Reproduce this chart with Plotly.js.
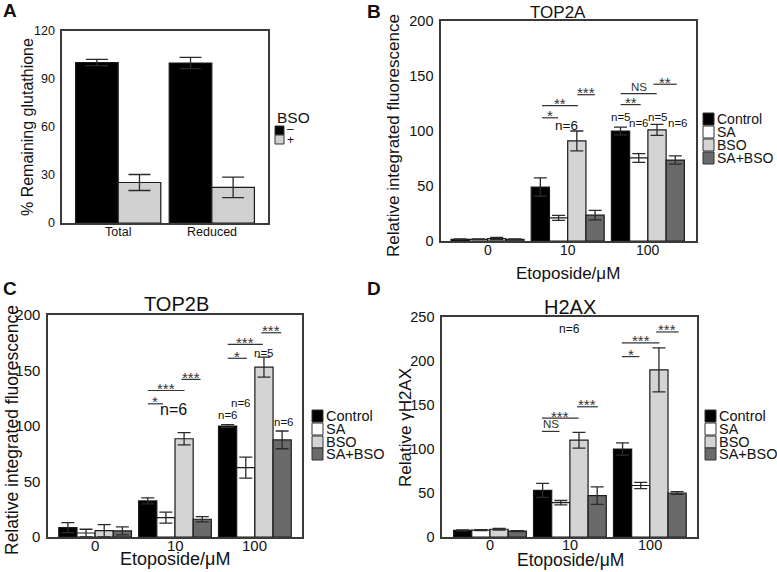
<!DOCTYPE html>
<html><head><meta charset="utf-8">
<script src="https://cdn.plot.ly/plotly-3.0.1.min.js"></script>
<style>html,body{margin:0;padding:0;background:#fff}#chart{width:777px;height:572px}</style>
</head><body><div id="chart"></div>
<script>
// ---------- Panel A data ----------
const aCategories = ['Total', 'Reduced'];
const aMinusValues = [100.3, 100];
const aMinusErr = [2, 3.5];
const aPlusValues = [25.3, 22.3];
const aPlusErr = [5, 6.4];

// ---------- Panels B-D data ----------
const etoCategories = ['0', '10', '100'];
const seriesNames = ['Control', 'SA', 'BSO', 'SA+BSO'];

const top2aControl = [1.5, 49, 100],   top2aControlErr = [0.3, 8.3, 3.6];
const top2aSA      = [1.5, 21, 75.5],  top2aSAErr      = [0.3, 2.3, 4];
const top2aBSO     = [2.2, 91, 101],   top2aBSOErr     = [1, 9, 5];
const top2aSABSO   = [1.5, 23.5, 73.6], top2aSABSOErr  = [0.3, 4.3, 3.7];

const top2bControl = [8.5, 32.5, 100],  top2bControlErr = [4.5, 2.7, 1.2];
const top2bSA      = [3.6, 17.5, 62.5], top2bSAErr      = [3.4, 5, 9.5];
const top2bBSO     = [5.7, 88.5, 153],  top2bBSOErr     = [5.5, 5.5, 9];
const top2bSABSO   = [5.5, 16, 87.5],   top2bSABSOErr   = [3.6, 2.3, 8];

const h2axControl = [7.5, 53, 100],   h2axControlErr = [0.6, 8, 7];
const h2axSA      = [7.8, 39, 58.5],  h2axSAErr      = [0.5, 2.5, 3.5];
const h2axBSO     = [8.8, 110, 190],  h2axBSOErr     = [1, 9, 25];
const h2axSABSO   = [6.6, 47, 50],    h2axSABSOErr   = [0.6, 10, 1.5];

// significance bars: [from, to, level, label]
const sigB = [[0.68,0.88,112,'*'],[0.68,1.13,123,'**'],[1.12,1.34,133,'***'],[1.66,1.91,124,'**'],[1.66,2.11,134,'NS'],[2.07,2.36,142.5,'**']];
const sigC = [[0.66,0.85,120,'*'],[0.66,1.12,132,'***'],[1.08,1.32,142,'***'],[1.66,1.90,161,'*'],[1.66,2.10,173.5,'***'],[2.08,2.33,184,'***']];
const sigD = [[0.65,0.87,120,'NS'],[0.65,1.11,135,'***'],[1.09,1.35,148,'***'],[1.65,1.87,205,'*'],[1.65,2.12,220.5,'***'],[2.08,2.36,233,'***']];
// n labels: [x, y, text, size]
const nB = [[0.99,105,'n=6',13.5],[1.66,113,'n=5',11.5],[1.89,107,'n=6',11.5],[2.12,113,'n=5',11.5],[2.37,107,'n=6',11.5]];
const nC = [[0.98,115,'n=6',16],[1.66,110,'n=6',11.5],[1.83,121,'n=6',11.5],[2.12,166,'n=5',11.5],[2.36,104,'n=6',11.5]];
const nD = [[1.0,236,'n=6',12]];

const FONT = 'Liberation Sans, Arial, sans-serif';
const colors = ['#000000', '#ffffff', '#d4d4d4', '#6a6a6a'];
const W = 777, H = 572;
const px = v => v / W, py = v => 1 - v / H;

function bar(name, x, y, err, color, xa, ya, capw) {
  return {
    type: 'bar', name: name, x: x, y: y, xaxis: xa, yaxis: ya, showlegend: false,
    marker: { color: color, line: { color: '#1a1a1a', width: 1.2 } },
    error_y: { type: 'data', array: err, visible: true, color: '#2a2a2a', thickness: 1.3, width: capw },
    hoverinfo: 'skip'
  };
}

const traces = [
  bar('−', aCategories, aMinusValues, aMinusErr, '#000000', 'x', 'y', 11),
  bar('+', aCategories, aPlusValues, aPlusErr, '#d0d0d0', 'x', 'y', 11)
];
const panels = [
  { xa: 'x2', ya: 'y2', data: [[top2aControl, top2aControlErr],[top2aSA, top2aSAErr],[top2aBSO, top2aBSOErr],[top2aSABSO, top2aSABSOErr]] },
  { xa: 'x3', ya: 'y3', data: [[top2bControl, top2bControlErr],[top2bSA, top2bSAErr],[top2bBSO, top2bBSOErr],[top2bSABSO, top2bSABSOErr]] },
  { xa: 'x4', ya: 'y4', data: [[h2axControl, h2axControlErr],[h2axSA, h2axSAErr],[h2axBSO, h2axBSOErr],[h2axSABSO, h2axSABSOErr]] }
];
panels.forEach(p => {
  p.data.forEach((d, i) => traces.push(bar(seriesNames[i], etoCategories, d[0], d[1], colors[i], p.xa, p.ya, 6.5)));
});

function xax(anchor, domain, range) {
  return { anchor: anchor, domain: domain, range: range, type: 'category', showline: true, mirror: true, linecolor: '#3a3a3a', linewidth: 1.6,
    ticks: '', showgrid: false, zeroline: false, showticklabels: false, fixedrange: true };
}
function yax(anchor, domain, range, dtick, fs) {
  return { anchor: anchor, domain: domain, range: range, dtick: dtick, tick0: 0, showline: true, mirror: true, linecolor: '#3a3a3a', linewidth: 1.6,
    ticks: '', showgrid: false, zeroline: false, ticklabelstandoff: 3, tickfont: { family: FONT, size: fs, color: '#111' }, fixedrange: true };
}

const annotations = [];
const shapes = [];
function txt(x, y, text, size, opts) {
  annotations.push(Object.assign({ x: x, y: y, xref: 'paper', yref: 'paper', text: text, showarrow: false,
    xanchor: 'center', yanchor: 'middle', font: { family: FONT, size: size, color: '#111' } }, opts || {}));
}
// x-axis category labels, placed at each category's index on its axis
function xticks(cats, xa, yPix, size) {
  cats.forEach((c, i) => annotations.push({ x: i, y: py(yPix), xref: xa, yref: 'paper', text: c, showarrow: false,
    xanchor: 'center', yanchor: 'middle', font: { family: FONT, size: size, color: '#111' } }));
}
xticks(aCategories, 'x', 232, 12.5);
xticks(etoCategories, 'x2', 250, 14);
xticks(etoCategories, 'x3', 545, 15);
xticks(etoCategories, 'x4', 545, 14.5);

// panel letters
txt(px(10), py(10), '<b>A</b>', 19);
txt(px(374), py(11), '<b>B</b>', 19);
txt(px(10), py(288), '<b>C</b>', 19);
txt(px(374), py(288), '<b>D</b>', 19);
// subplot titles
txt(px(558), py(13), 'TOP2A', 17);
txt(px(176), py(304), 'TOP2B', 20);
txt(px(570), py(307), 'H2AX', 20);
// axis titles
txt(px(27), py(127), '% Remaining glutathione', 16, { textangle: -90 });
txt(px(394), py(136), 'Relative integrated fluorescence', 17, { textangle: -90 });
txt(px(12), py(430), 'Relative integrated fluorescence', 17.5, { textangle: -90 });
txt(px(405), py(427), 'Relative γH2AX', 17, { textangle: -90 });
txt(px(568), py(273), 'Etoposide/μM', 17);
txt(px(175), py(559), 'Etoposide/μM', 18);
txt(px(570), py(559.5), 'Etoposide/μM', 17.5);

// significance bars
function sig(list, xa, ya) {
  list.forEach(s => {
    shapes.push({ type: 'line', xref: xa, yref: ya, x0: s[0], x1: s[1], y0: s[2], y1: s[2], line: { color: '#333', width: 1.2 } });
    const isNS = s[3] === 'NS';
    annotations.push({ x: (s[0] + s[1]) / 2, y: s[2], xref: xa, yref: ya, text: s[3], showarrow: false,
      xanchor: 'center', yanchor: 'middle', yshift: isNS ? 7 : 2,
      font: { family: FONT, size: isNS ? 11.5 : 15, color: '#333' } });
  });
}
function nlab(list, xa, ya) {
  list.forEach(n => annotations.push({ x: n[0], y: n[1], xref: xa, yref: ya, text: n[2], showarrow: false,
    xanchor: 'center', yanchor: 'middle', font: { family: FONT, size: n[3], color: '#111' } }));
}
sig(sigB, 'x2', 'y2'); nlab(nB, 'x2', 'y2');
sig(sigC, 'x3', 'y3'); nlab(nC, 'x3', 'y3');
sig(sigD, 'x4', 'y4'); nlab(nD, 'x4', 'y4');

// legends
function legend(x0, rows, size, sq) {
  seriesNames.forEach((nm, i) => {
    const yc = rows[i];
    shapes.push({ type: 'rect', xref: 'paper', yref: 'paper', x0: px(x0), x1: px(x0 + sq), y0: py(yc + 6), y1: py(yc - 6),
      fillcolor: colors[i], line: { color: '#333', width: 1 } });
    txt(px(x0 + sq + 1), py(yc), nm, size, { xanchor: 'left' });
  });
}
legend(703, [119, 132, 145, 158], 14, 11);
legend(312, [416, 429, 442, 454], 14.5, 11);
legend(705, [416, 429, 442, 454], 14.5, 11);
// Panel A legend
txt(px(275), py(117), 'BSO', 15.5, { xanchor: 'left' });
shapes.push({ type: 'rect', xref: 'paper', yref: 'paper', x0: px(275), x1: px(284), y0: py(135), y1: py(126), fillcolor: '#000', line: { color: '#333', width: 1 } });
shapes.push({ type: 'rect', xref: 'paper', yref: 'paper', x0: px(275), x1: px(284), y0: py(144), y1: py(135), fillcolor: '#d0d0d0', line: { color: '#333', width: 1 } });
txt(px(285), py(129), '–', 12, { xanchor: 'left' });
txt(px(285), py(140), '+', 12, { xanchor: 'left' });

const layout = {
  width: W, height: H, margin: { l: 0, r: 0, t: 0, b: 0 },
  paper_bgcolor: '#fff', plot_bgcolor: '#fff', barmode: 'group', bargap: 0.09, bargroupgap: 0,
  showlegend: false,
  xaxis: xax('y', [px(62), px(268)], [-0.6, 1.6]),
  yaxis: yax('x', [py(223), py(31)], [0, 120], 30, 12.5),
  xaxis2: xax('y2', [px(441), px(696)], [-0.58, 2.6]),
  yaxis2: yax('x2', [py(241), py(21)], [0, 200], 50, 14.5),
  xaxis3: xax('y3', [px(48), px(302)], [-0.59, 2.59]),
  yaxis3: yax('x3', [py(537), py(315)], [0, 200], 50, 15),
  xaxis4: xax('y4', [px(442), px(697)], [-0.6, 2.59]),
  yaxis4: yax('x4', [py(537), py(317)], [0, 250], 50, 14.5),
  annotations: annotations, shapes: shapes
};
Plotly.newPlot('chart', traces, layout, { displayModeBar: false, staticPlot: true });
</script></body></html>
